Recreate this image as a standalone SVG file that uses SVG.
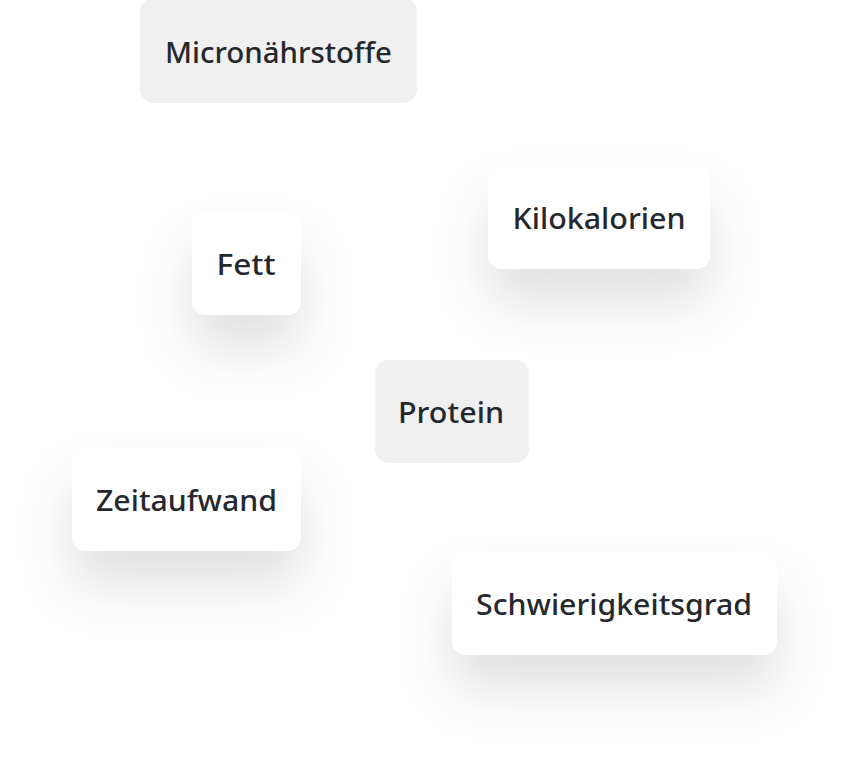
<svg xmlns="http://www.w3.org/2000/svg" width="850" height="768" viewBox="0 0 850 768">
<style>
.lbl{font-family:"Noto Sans","Open Sans","Liberation Sans",sans-serif;font-weight:500;font-size:28px;fill:#25282d;text-anchor:middle}
.grey{fill:#f0f0f0}
.white{fill:#ffffff}
</style>
<defs>
<filter id="sh" x="-80%" y="-80%" width="260%" height="300%">
<feDropShadow dx="0" dy="34" stdDeviation="27" flood-color="#000" flood-opacity="0.12"/>
</filter>
</defs>
<rect width="850" height="768" fill="#ffffff"/>
<g id="micronaehrstoffe">
<rect class="grey" x="140" y="-2" width="277" height="105" rx="14"/>
<text class="lbl" x="278.5" y="63" textLength="227" lengthAdjust="spacingAndGlyphs">Micronährstoffe</text>
</g>
<g id="kilokalorien">
<rect class="white" x="488" y="166" width="222" height="103" rx="14" filter="url(#sh)"/>
<text class="lbl" x="599" y="229" textLength="173" lengthAdjust="spacingAndGlyphs">Kilokalorien</text>
</g>
<g id="fett">
<rect class="white" x="192" y="212" width="109" height="103" rx="14" filter="url(#sh)"/>
<text class="lbl" x="246" y="275" textLength="59" lengthAdjust="spacingAndGlyphs">Fett</text>
</g>
<g id="protein">
<rect class="grey" x="375" y="360" width="154" height="103" rx="14"/>
<text class="lbl" x="451" y="423" textLength="106" lengthAdjust="spacingAndGlyphs">Protein</text>
</g>
<g id="zeitaufwand">
<rect class="white" x="72" y="448" width="229" height="103" rx="14" filter="url(#sh)"/>
<text class="lbl" x="186.5" y="511" textLength="181" lengthAdjust="spacingAndGlyphs">Zeitaufwand</text>
</g>
<g id="schwierigkeitsgrad">
<rect class="white" x="452" y="552" width="325" height="103" rx="14" filter="url(#sh)"/>
<text class="lbl" x="614" y="615" textLength="276" lengthAdjust="spacingAndGlyphs">Schwierigkeitsgrad</text>
</g>
<g id="connectors"></g>
</svg>
